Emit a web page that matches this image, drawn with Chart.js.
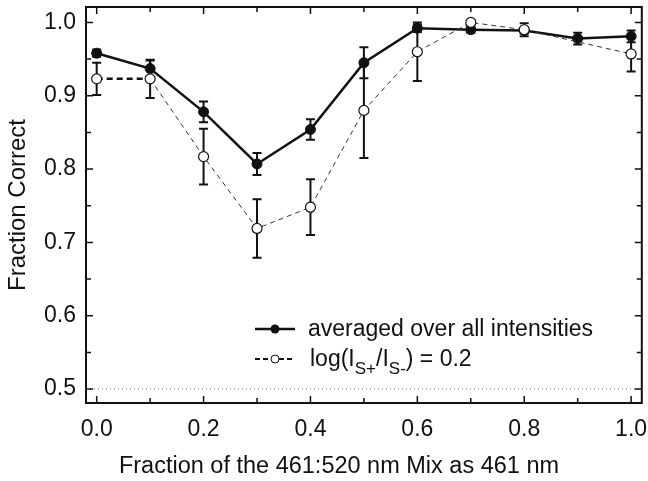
<!DOCTYPE html>
<html>
<head>
<meta charset="utf-8">
<script src="https://cdn.jsdelivr.net/npm/chart.js@4/dist/chart.umd.min.js"></script>
<style>
  body { margin: 0; background: #fff; }
  #wrap { width: 648px; height: 481px; }
</style>
</head>
<body>
<div id="wrap"><canvas id="chart"></canvas></div>
<script>
const mixFraction = [0.0, 0.1, 0.2, 0.3, 0.4, 0.5, 0.6, 0.7, 0.8, 0.9, 1.0];
const averaged    = [0.958, 0.937, 0.878, 0.807, 0.854, 0.945, 0.992, 0.990, 0.989, 0.978, 0.981];
const averagedErr = [0.005, 0.011, 0.014, 0.015, 0.014, 0.021, 0.005, 0.004, 0.004, 0.008, 0.008];
const logRatio02    = [0.923, 0.923, 0.817, 0.719, 0.748, 0.880, 0.960, 1.000, 0.990, null, 0.957];
const logRatio02Err = [0.022, 0.026, 0.038, 0.040, 0.038, 0.065, 0.040, 0.003, 0.009, null, 0.024];
const chanceLevel = 0.5;
const xTicks = [0, 0.2, 0.4, 0.6, 0.8, 1.0];
const yTicks = [0.5, 0.6, 0.7, 0.8, 0.9, 1.0];
const xTitle = 'Fraction of the 461:520 nm Mix as 461 nm';

const FONT = '"Liberation Sans", Arial, Helvetica, sans-serif';

function pts(ys) {
  return mixFraction.map((x, i) => ({ x: x, y: ys[i] }));
}

// error bars, inward ticks, frame, x title and legend
const extras = {
  id: 'extras',
  beforeDatasetsDraw(chart) {
    const ctx = chart.ctx;
    const xs = chart.scales.x, ys = chart.scales.y;
    ctx.save();
    ctx.strokeStyle = '#111';
    ctx.lineWidth = 2;
    [[averaged, averagedErr], [logRatio02, logRatio02Err]].forEach(([vals, errs]) => {
      vals.forEach((v, i) => {
        if (v === null) return;
        const px = xs.getPixelForValue(mixFraction[i]);
        const top = ys.getPixelForValue(v + errs[i]);
        const bot = ys.getPixelForValue(v - errs[i]);
        ctx.beginPath();
        ctx.moveTo(px, top); ctx.lineTo(px, bot);
        ctx.moveTo(px - 4.5, top); ctx.lineTo(px + 4.5, top);
        ctx.moveTo(px - 4.5, bot); ctx.lineTo(px + 4.5, bot);
        ctx.stroke();
      });
    });
    ctx.restore();
  },
  afterDraw(chart) {
    const ctx = chart.ctx;
    const a = chart.chartArea;
    const xs = chart.scales.x, ys = chart.scales.y;
    ctx.save();
    ctx.strokeStyle = '#111';
    ctx.lineWidth = 1.5;
    ctx.beginPath();
    for (let v = 0; v <= 1.0001; v += 0.1) {
      const px = xs.getPixelForValue(v);
      const len = Math.abs(Math.round(v * 10) % 2) === 0 ? 7 : 5;
      ctx.moveTo(px, a.bottom); ctx.lineTo(px, a.bottom - len);
      ctx.moveTo(px, a.top); ctx.lineTo(px, a.top + len);
    }
    for (let v = 0.5; v <= 1.0001; v += 0.05) {
      const py = ys.getPixelForValue(v);
      const len = Math.abs(Math.round(v * 20) % 2) === 0 ? 7 : 5;
      ctx.moveTo(a.left, py); ctx.lineTo(a.left + len, py);
      ctx.moveTo(a.right, py); ctx.lineTo(a.right - len, py);
    }
    ctx.stroke();
    ctx.lineWidth = 2;
    ctx.strokeRect(a.left, a.top, a.right - a.left, a.bottom - a.top);

    // x axis title (sits a little left of the plot centre in the original)
    ctx.fillStyle = '#111';
    ctx.font = '23.5px ' + FONT;
    ctx.textAlign = 'center';
    ctx.textBaseline = 'middle';
    ctx.fillText(xTitle, 339, 467);
    ctx.textAlign = 'left';

    // legend
    const lx0 = 255, lx1 = 295, lxm = 275, r1 = 329, r2 = 359;
    ctx.lineWidth = 2.5;
    ctx.beginPath(); ctx.moveTo(lx0, r1); ctx.lineTo(lx1, r1); ctx.stroke();
    ctx.beginPath(); ctx.arc(lxm, r1, 4.5, 0, Math.PI * 2); ctx.fill();
    ctx.lineWidth = 2;
    ctx.setLineDash([5, 3]);
    ctx.beginPath(); ctx.moveTo(lx0, r2); ctx.lineTo(lxm - 4, r2); ctx.stroke();
    ctx.beginPath(); ctx.moveTo(lxm + 4, r2); ctx.lineTo(lx1, r2); ctx.stroke();
    ctx.setLineDash([]);
    ctx.lineWidth = 1;
    ctx.fillStyle = '#fff';
    ctx.beginPath(); ctx.arc(lxm, r2, 4, 0, Math.PI * 2); ctx.fill(); ctx.stroke();

    ctx.fillStyle = '#111';
    ctx.textBaseline = 'alphabetic';
    ctx.font = '23px ' + FONT;
    ctx.fillText('averaged over all intensities', 308, 336);
    let x = 310;
    const seg = (t, sub) => {
      ctx.font = (sub ? '17px ' : '23px ') + FONT;
      ctx.fillText(t, x, sub ? 374 : 366);
      x += ctx.measureText(t).width;
    };
    seg('log(I', false); seg('S+', true); seg('/I', false); seg('S-', true); seg(') = 0.2', false);
    ctx.restore();
  }
};

const ctx = document.getElementById('chart').getContext('2d');
const chart = new Chart(ctx, {
  type: 'line',
  data: {
    datasets: [
      {
        label: 'averaged over all intensities',
        data: pts(averaged),
        borderColor: '#111',
        borderWidth: 2.5,
        pointRadius: 5,
        pointBackgroundColor: '#111',
        pointBorderColor: '#111',
        pointBorderWidth: 1,
        order: 2
      },
      {
        label: 'log(IS+/IS-) = 0.2',
        data: pts(logRatio02),
        borderColor: '#333',
        borderWidth: 1,
        borderDash: [5, 4],
        spanGaps: true,
        pointRadius: 5,
        pointBackgroundColor: '#fff',
        pointBorderColor: '#111',
        pointBorderWidth: 1.2,
        segment: {
          borderWidth: c => c.p0DataIndex === 0 ? 2.5 : 1,
          borderDash: c => c.p0DataIndex === 0 ? [6, 4] : [5, 4],
          borderColor: c => c.p0DataIndex === 0 ? '#111' : '#333'
        },
        order: 1
      },
      {
        label: 'chance',
        data: [{ x: -0.02, y: chanceLevel }, { x: 1.02, y: chanceLevel }],
        borderColor: '#777',
        borderWidth: 1,
        borderDash: [1, 3],
        pointRadius: 0,
        order: 3
      }
    ]
  },
  options: {
    responsive: true,
    maintainAspectRatio: false,
    animation: false,
    layout: { padding: { top: 7, right: 6, left: 0, bottom: 0 } },
    plugins: { legend: { display: false }, tooltip: { enabled: false } },
    scales: {
      x: {
        type: 'linear',
        min: -0.02,
        max: 1.02,
        grid: { display: false },
        border: { display: false },
        afterBuildTicks: s => { s.ticks = xTicks.map(v => ({ value: v })); },
        afterFit: s => { s.height = 78; s.paddingLeft = 0; s.paddingRight = 0; },
        ticks: {
          color: '#111',
          font: { family: FONT, size: 23 },
          padding: 5,
          maxRotation: 0,
          callback: v => v.toFixed(1)
        },
        title: { display: false }
      },
      y: {
        min: 0.481,
        max: 1.021,
        grid: { display: false },
        border: { display: false },
        afterBuildTicks: s => { s.ticks = yTicks.map(v => ({ value: v })); },
        afterFit: s => { s.width = 86; s.paddingTop = 0; s.paddingBottom = 0; },
        ticks: {
          color: '#111',
          font: { family: FONT, size: 23 },
          padding: 2,
          callback: v => v.toFixed(1)
        },
        title: {
          display: true,
          text: 'Fraction Correct',
          color: '#111',
          font: { family: FONT, size: 24 },
          padding: { top: 4, bottom: 0 }
        }
      }
    }
  },
  plugins: [extras]
});
</script>
</body>
</html>
